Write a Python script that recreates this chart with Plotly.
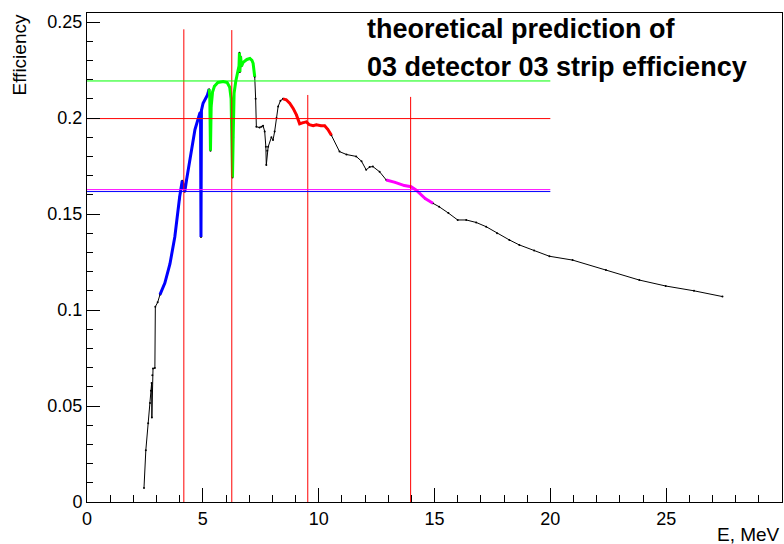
import plotly.graph_objects as go

# ---- data ----
energy = [2.46, 2.54, 2.64, 2.72, 2.76, 2.79, 2.80, 2.82, 2.85, 2.93, 2.95, 3.05, 3.15,
          3.36, 3.58, 3.79, 4.0, 4.11, 4.18, 4.22, 4.30, 4.44, 4.66, 4.87, 4.90, 4.92, 4.94,
          5.01, 5.2, 5.27, 5.30, 5.33, 5.36, 5.42, 5.5, 5.65, 5.88, 6.05, 6.16, 6.22, 6.26,
          6.28, 6.31, 6.35, 6.42, 6.52, 6.56, 6.58, 6.60, 6.63, 6.67, 6.74, 6.9, 7.03, 7.12,
          7.17, 7.24, 7.28, 7.31, 7.45, 7.53, 7.6, 7.67, 7.72, 7.74, 7.78, 7.82, 7.96, 8.03,
          8.1, 8.18, 8.25, 8.35, 8.46, 8.6, 8.75, 8.9, 9.04, 9.18, 9.3, 9.47, 9.6, 9.76, 9.9,
          10.1, 10.26, 10.4, 10.55, 10.9, 11.2, 11.62, 11.85, 12.05, 12.2, 12.34, 12.63,
          12.92, 13.3, 13.7, 13.99, 14.2, 14.35, 14.6, 14.93, 15.2, 15.6, 16.0, 16.37, 16.8,
          17.23, 17.7, 18.23, 18.66, 19.3, 19.96, 20.96, 22.4, 23.84, 24.98, 26.2, 27.43]
efficiency = [0.0073, 0.027, 0.041, 0.0515, 0.058, 0.062, 0.044, 0.066, 0.0695, 0.0698,
              0.1017, 0.104, 0.108, 0.114, 0.124, 0.138, 0.159, 0.1673, 0.1635, 0.1616,
              0.168, 0.178, 0.194, 0.2025, 0.203, 0.138, 0.204, 0.2077, 0.212, 0.215, 0.211,
              0.183, 0.206, 0.2135, 0.2165, 0.2185, 0.219, 0.2185, 0.216, 0.21, 0.185, 0.169,
              0.19, 0.213, 0.219, 0.225, 0.227, 0.234, 0.224, 0.232, 0.227, 0.229, 0.2305,
              0.231, 0.230, 0.2285, 0.2215, 0.21, 0.1955, 0.195, 0.1955, 0.196, 0.193, 0.185,
              0.1755, 0.183, 0.185, 0.190, 0.1885, 0.193, 0.2, 0.206, 0.209, 0.210, 0.2095,
              0.2077, 0.205, 0.2016, 0.197, 0.1975, 0.198, 0.1965, 0.196, 0.1965, 0.196,
              0.196, 0.194, 0.191, 0.1825, 0.181, 0.180, 0.1775, 0.173, 0.1745, 0.1747,
              0.172, 0.1677, 0.1665, 0.1648, 0.1642, 0.1625, 0.1608, 0.158, 0.1556, 0.1538,
              0.1505, 0.1469, 0.1469, 0.1456, 0.1434, 0.140, 0.1365, 0.1339, 0.131, 0.128,
              0.126, 0.1208, 0.1156, 0.1125, 0.110, 0.107]

# energy windows highlighted on the curve
window_lo = [3.15, 5.27, 8.46, 12.92]
window_hi = [5.27, 7.24, 10.55, 14.93]
window_colors = ["#0000ff", "#00ff00", "#ff0000", "#ff00ff"]

# window centres (vertical markers) and their heights
center_energy = [4.18, 6.25, 9.53, 13.97]
center_top = [0.2462, 0.2458, 0.212, 0.211]

# mean efficiencies (horizontal markers), drawn from 0 to 20 MeV
mean_eff = [0.2193, 0.1997, 0.1627, 0.1617]
mean_colors = ["#00ff00", "#ff0000", "#ff00ff", "#0000ff"]
mean_span = [0, 20]

title_lines = ["theoretical prediction of", "03 detector 03 strip efficiency"]

# ---- figure ----
fig = go.Figure()

fig.add_trace(go.Scatter(x=energy, y=efficiency, mode="lines+markers",
                         line=dict(color="black", width=1),
                         marker=dict(color="black", size=2), showlegend=False,
                         hoverinfo="skip"))

for lo, hi, col in zip(window_lo, window_hi, window_colors):
    xs = [e for e in energy if lo <= e <= hi]
    ys = [v for e, v in zip(energy, efficiency) if lo <= e <= hi]
    fig.add_trace(go.Scatter(x=xs, y=ys, mode="lines",
                             line=dict(color=col, width=3), showlegend=False))

for xv, top in zip(center_energy, center_top):
    fig.add_trace(go.Scatter(x=[xv, xv], y=[0, top], mode="lines",
                             line=dict(color="#ff0000", width=1), showlegend=False))

for yv, col in zip(mean_eff, mean_colors):
    fig.add_trace(go.Scatter(x=mean_span, y=[yv, yv], mode="lines",
                             line=dict(color=col, width=1), showlegend=False))

axis_font = dict(family="Liberation Sans, Arial, sans-serif", size=18, color="black")

fig.update_layout(
    width=784, height=544,
    margin=dict(l=87, r=2, t=13, b=42),
    paper_bgcolor="white", plot_bgcolor="white",
    font=axis_font,
    xaxis=dict(range=[0, 30], showgrid=False, zeroline=False,
               showline=True, linecolor="black", linewidth=1, mirror=True,
               ticks="inside", ticklen=14, tickcolor="black", tickwidth=1,
               tick0=0, dtick=5, tickfont=axis_font,
               minor=dict(ticks="inside", ticklen=7, dtick=1, tickcolor="black",
                          showgrid=False)),
    yaxis=dict(range=[0, 0.2547], showgrid=False, zeroline=False,
               showline=True, linecolor="black", linewidth=1, mirror=True,
               ticks="inside", ticklen=13, tickcolor="black", tickwidth=1,
               tick0=0, dtick=0.05, tickformat="~g", tickfont=axis_font,
               minor=dict(ticks="inside", ticklen=6, dtick=0.01, tickcolor="black",
                          showgrid=False)),
)

bold_font = dict(family="Liberation Sans, Arial, sans-serif", size=27, color="black")
fig.add_annotation(xref="paper", yref="paper", x=(365 - 87) / 695, y=(502 - 29) / 489,
                   text="<b>%s</b>" % title_lines[0], showarrow=False,
                   xanchor="left", yanchor="middle", font=bold_font)
fig.add_annotation(xref="paper", yref="paper", x=(365 - 87) / 695, y=(502 - 67) / 489,
                   text="<b>%s</b>" % title_lines[1], showarrow=False,
                   xanchor="left", yanchor="middle", font=bold_font)

title_font = dict(family="Liberation Sans, Arial, sans-serif", size=19, color="black")
fig.add_annotation(xref="paper", yref="paper", x=1.0, y=(502 - 534) / 489,
                   text="E, MeV", showarrow=False, xanchor="right", yanchor="middle",
                   font=title_font)
fig.add_annotation(xref="paper", yref="paper", x=(19 - 87) / 695, y=1.0,
                   text="Efficiency", showarrow=False, textangle=-90,
                   xanchor="center", yanchor="top", font=title_font)

fig.write_html("out.html")
